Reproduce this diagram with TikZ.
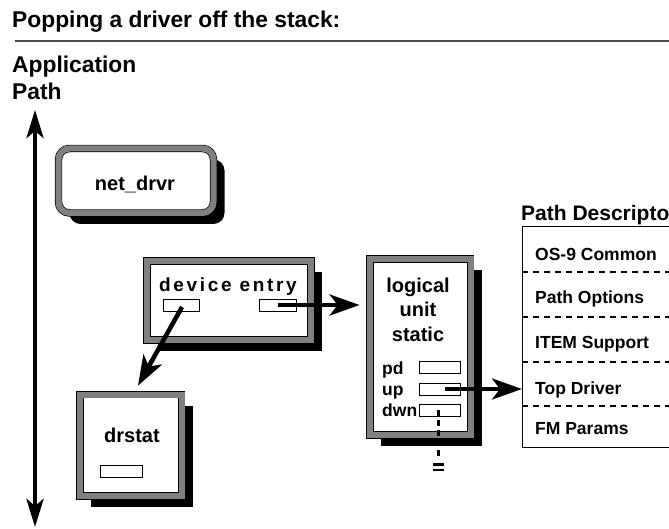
\documentclass[tikz,border=0pt]{standalone}
\usepackage{fontspec}
\setmainfont{Liberation Sans}
\newfontfamily\spacedfont[LetterSpace=14]{Liberation Sans}
\usetikzlibrary{arrows.meta,shadows,calc}
\definecolor{framegray}{RGB}{128,128,128}

\begin{document}
\begin{tikzpicture}[x=1pt,y=-1pt,
  bighead/.tip={Stealth[length=30pt,width=21pt,inset=8pt]},
  axhead/.tip={Stealth[length=28pt,width=17pt,inset=7pt]},
  heading/.style={font=\bfseries\fontsize{22.8}{25}\selectfont, inner sep=0pt},
  lbl/.style={font=\bfseries\fontsize{20}{22}\selectfont, inner sep=0pt},
  small/.style={font=\bfseries\fontsize{17.5}{20}\selectfont, inner sep=0pt},
  frame/.style={draw=black, line width=0.7pt, double=framegray,
    double distance=6pt, fill=white, inner sep=0pt,
    drop shadow={shadow xshift=11pt, shadow yshift=-11pt, fill=black, opacity=1}},
  slot/.style={draw=black, line width=0.8pt, fill=white, inner sep=0pt,
    minimum height=12pt},
  bigarrow/.style={line width=4.5pt, -bighead},
  rowsep/.style={line width=1.1pt, dash pattern=on 6pt off 5pt},
]
\useasboundingbox (0,0) rectangle (669,529);

% heading and rule
\node[heading, anchor=base west] (title) at (12,28) {Popping a driver off the stack:};
\draw[line width=1.3pt, black!70] (15,41) -- (669,41);

% application path axis
\node[heading, anchor=base west] (app) at (12,73) {Application};
\node[heading, anchor=base west] (apppath) at (12,100) {Path};
\coordinate (axtop) at (35,110);
\coordinate (axbot) at (35,527);
\draw[line width=4.5pt, axhead-axhead] (axtop) -- (axbot);

% framed boxes
\node[frame, rounded corners=11pt, minimum width=155pt, minimum height=64.5pt] (net) at (136,180.75) {};
\node[frame, minimum width=164pt, minimum height=79pt] (dev) at (229,300.5) {};
\node[frame, minimum width=101.5pt, minimum height=101.5pt] (drs) at (130.75,445.25) {};
\node[frame, minimum width=100.5pt, minimum height=176pt] (lu) at (420.25,347) {};

% box labels
\node[lbl, anchor=base] (nettxt) at (135,191) {net\_drvr};
\node[font=\spacedfont\bfseries\fontsize{19}{22}\selectfont, inner sep=0pt, anchor=base west] (devtxt) at (159,291) {device entry};
\node[lbl, anchor=base] (drstxt) at (132,442) {drstat};
\node[lbl, anchor=base] (lu1) at (418,292.5) {logical};
\node[lbl, anchor=base] (lu2) at (418,316.5) {unit};
\node[lbl, anchor=base] (lu3) at (418,341) {static};
\node[small, anchor=base west] (pdtxt) at (382,374) {pd};
\node[small, anchor=base west] (uptxt) at (382,395) {up};
\node[small, anchor=base west] (dwntxt) at (382,416) {dwn};

% slots
\node[slot, minimum width=36pt] (devL) at (181,305) {};
\node[slot, minimum width=37pt] (devR) at (277.5,305) {};
\node[slot, minimum width=42pt] (drsslot) at (121,471) {};
\node[slot, minimum width=41pt] (pd) at (439.5,367) {};
\node[slot, minimum width=41pt] (up) at (439.5,389) {};
\node[slot, minimum width=41pt] (dwn) at (439.5,410) {};

% path descriptor table (runs past the right edge)
\node[font=\bfseries\fontsize{21}{23}\selectfont, inner sep=0pt, anchor=base west] (pdtitle) at (521,221) {Path Descriptor};
\node[draw=black, line width=1pt, inner sep=0pt, minimum width=190pt, minimum height=221pt, anchor=north west] (pdtab) at (522,226) {};
\foreach \yy in {272,317,362,406}
  \draw[rowsep] (522,\yy) -- (690,\yy);
\node[small, anchor=base west] (r1) at (535,261) {OS-9 Common};
\node[small, anchor=base west] (r2) at (535,303) {Path Options};
\node[small, anchor=base west] (r3) at (535,348) {ITEM Support};
\node[small, anchor=base west] (r4) at (535,394) {Top Driver};
\node[small, anchor=base west] (r5) at (535,434) {FM Params};

% connectors
\draw[bigarrow, shorten >=10pt] (devR.center) -- (devR.center -| lu.west);
\draw[bigarrow] ($(devL.center)+(1,2)$) -- ($(drs.north)+(7.25,-8.5)$);
\draw[bigarrow] ($(up.center)+(5,0)$) -- (up.center -| pdtab.west);

% down link and its terminator
\coordinate (dwnend) at (438,459);
\draw[line width=3pt, dash pattern=on 6pt off 4pt] (dwn.center -| dwnend) -- (dwnend);
\draw[line width=2.5pt] (433,464.5) -- (444,464.5) (433,470) -- (444,470);
\end{tikzpicture}
\end{document}
